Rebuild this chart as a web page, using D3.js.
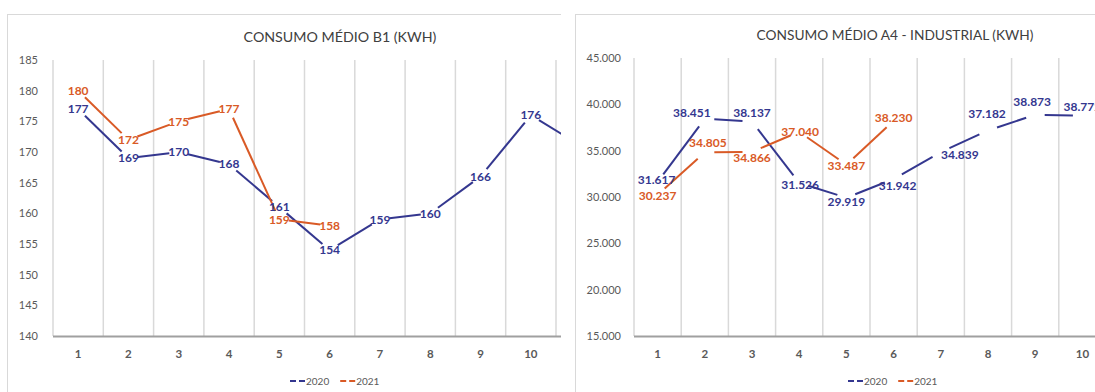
<!DOCTYPE html>
<html>
<head>
<meta charset="utf-8">
<script src="https://cdn.jsdelivr.net/npm/d3@7"></script>
<style>
  html, body { margin: 0; padding: 0; background: #fff; }
  svg { display: block; font-family: Lato, "Open Sans", sans-serif; }
</style>
</head>
<body>
<svg id="chart" width="1095" height="392"></svg>
<script>
// ---------------- DATA ----------------
const seriesNames = ['2020', '2021'];

const categoriesB1 = ['1','2','3','4','5','6','7','8','9','10','11'];
const b1Values2020 = [177, 169, 170, 168, 161, 154, 159, 160, 166, 176, 171];
const b1Values2021 = [180, 172, 175, 177, 159, 158];
const b1Ticks = [140, 145, 150, 155, 160, 165, 170, 175, 180, 185];
const b1Title = 'CONSUMO MÉDIO B1 (KWH)';

const categoriesA4 = ['1','2','3','4','5','6','7','8','9','10'];
const a4Values2020 = [31617, 38451, 38137, 31526, 29919, 31942, 34839, 37182, 38873, 38772];
const a4Values2021 = [30237, 34805, 34866, 37040, 33487, 38230];
const a4Ticks = [15000, 20000, 25000, 30000, 35000, 40000, 45000];
const a4Title = 'CONSUMO MÉDIO A4 - INDUSTRIAL (KWH)';

// ---------------- LAYOUT / STYLE ----------------
const COLORS = { '2020': '#34378f', '2021': '#d95a26' };
const GRID = '#d9d9d9', AXIS = '#a0a0a0', TEXT = '#595959', TITLE = '#404040';
const TRIM = 9.5; // white-marker gap around each point
// label nudges (Excel labels moved by hand in the A4 chart)
const nudgeA4 = {
  '2020': [[-1,-2],[-13,-6],[0,-9],[1,2],[0,4],[4,7],[19,3],[-1,-17],[-3,-13],[0,-9]],
  '2021': [[0,1],[3,-10],[0,6],[1,0],[0,1],[0,-3]]
};

const ptBR = d3.formatLocale({decimal: ',', thousands: '.', grouping: [3], currency: ['R$', '']});
const fmtThousands = ptBR.format(',.0f');

const svg = d3.select('#chart');

function fitText(sel, target) {
  const node = sel.node();
  const fs = parseFloat(sel.attr('font-size'));
  const w = node.getComputedTextLength();
  if (w > 0) sel.attr('font-size', (fs * target / w).toFixed(2));
}

function drawChart(cfg) {
  const g = svg.append('g');
  const clipId = 'clip' + cfg.id;
  svg.append('clipPath').attr('id', clipId)
    .append('rect').attr('x', cfg.clip[0]).attr('y', 0)
    .attr('width', cfg.clip[1] - cfg.clip[0]).attr('height', 392);
  const c = g.attr('clip-path', `url(#${clipId})`);
  const visible = px => px < cfg.clip[1] + 6;

  // chart border
  c.append('rect').attr('x', cfg.box[0] + 0.5).attr('y', cfg.box[1] + 0.5)
    .attr('width', 1000).attr('height', 500)
    .attr('fill', '#fff').attr('stroke', GRID).attr('stroke-width', 1);

  const x = d3.scaleBand().domain(cfg.categories)
    .range([cfg.plot.left, cfg.plot.left + cfg.band * cfg.categories.length]);
  const y = d3.scaleLinear().domain(cfg.yDomain).range([cfg.plot.bottom, cfg.plot.top]);
  const cx = d => x(d) + x.bandwidth() / 2;

  // vertical gridlines at category boundaries
  const bounds = cfg.categories.map(d => x(d)).concat([x.range()[1]]).filter(visible);
  c.append('g').selectAll('line').data(bounds).join('line')
    .attr('x1', d => d).attr('x2', d => d)
    .attr('y1', cfg.plot.top).attr('y2', cfg.plot.bottom)
    .attr('stroke', GRID).attr('stroke-width', 1.5);

  // x axis line
  c.append('line').attr('x1', cfg.plot.left).attr('x2', Math.min(x.range()[1], cfg.clip[1]))
    .attr('y1', cfg.plot.bottom + 0.5).attr('y2', cfg.plot.bottom + 0.5)
    .attr('stroke', AXIS).attr('stroke-width', 2);

  // y tick labels
  c.append('g').selectAll('text').data(cfg.ticks).join('text')
    .attr('x', cfg.yLabelX).attr('y', d => y(d)).attr('dy', '0.35em')
    .attr('text-anchor', 'end').attr('font-size', 11).attr('fill', TEXT)
    .text(d => cfg.fmt(d));

  // x tick labels (only those inside the visible part)
  c.append('g').selectAll('text').data(cfg.categories.filter(d => visible(cx(d)))).join('text')
    .attr('x', d => cx(d)).attr('y', 354).attr('dy', '0.35em')
    .attr('text-anchor', 'middle').attr('font-size', 11.5).attr('font-weight', 700)
    .attr('fill', TEXT).text(d => d);

  // title
  const t = c.append('text').attr('x', cfg.titleX).attr('y', cfg.titleY).attr('dy', '0.35em')
    .attr('text-anchor', 'middle').attr('font-size', 14).attr('fill', TITLE).text(cfg.title);
  fitText(t, cfg.titleW);

  // series lines (segments trimmed around the white markers)
  cfg.series.forEach(s => {
    const pts = s.values.map((v, i) => [cx(cfg.categories[i]), y(v)]);
    const segs = d3.pairs(pts).map(([a, b]) => {
      const dx = b[0] - a[0], dy = b[1] - a[1], L = Math.hypot(dx, dy);
      const k = TRIM / L;
      return [a[0] + dx * k, a[1] + dy * k, b[0] - dx * k, b[1] - dy * k];
    });
    c.append('g').selectAll('line').data(segs).join('line')
      .attr('x1', d => d[0]).attr('y1', d => d[1]).attr('x2', d => d[2]).attr('y2', d => d[3])
      .attr('stroke', COLORS[s.name]).attr('stroke-width', 2).attr('stroke-linecap', 'butt');
    s.pts = pts;
  });

  // data labels (skip points lying outside the visible crop)
  cfg.series.forEach(s => {
    const nudge = cfg.nudge ? cfg.nudge[s.name] : null;
    const items = s.values.map((v, i) => ({
      v, x: s.pts[i][0] + (nudge ? nudge[i][0] : 0), y: s.pts[i][1] + (nudge ? nudge[i][1] : 0)
    })).filter(d => d.x < cfg.clip[1]);
    c.append('g').selectAll('text').data(items).join('text')
      .attr('x', d => d.x).attr('y', d => d.y)
      .attr('dy', '0.35em').attr('text-anchor', 'middle')
      .attr('font-size', 12).attr('font-weight', 700).attr('fill', COLORS[s.name])
      .text(d => cfg.fmt(d.v));
  });

  // legend
  const lg = c.append('g');
  let lx = cfg.legendX;
  seriesNames.forEach((name, i) => {
    lg.append('line').attr('x1', lx).attr('x2', lx + 6).attr('y1', 381).attr('y2', 381)
      .attr('stroke', COLORS[name]).attr('stroke-width', 2);
    lg.append('line').attr('x1', lx + 9).attr('x2', lx + 15).attr('y1', 381).attr('y2', 381)
      .attr('stroke', COLORS[name]).attr('stroke-width', 2);
    const tx = lg.append('text').attr('x', lx + 16).attr('y', 381).attr('dy', '0.35em')
      .attr('font-size', 10).attr('fill', TEXT).text(name);
    lx += 16 + tx.node().getComputedTextLength() + 11;
  });
}

drawChart({
  id: 'B1', clip: [0, 561], box: [7, 14],
  categories: categoriesB1, band: 50.3,
  plot: { left: 53, top: 60, bottom: 336 },
  yDomain: [140, 185], ticks: b1Ticks, yLabelX: 38,
  fmt: d3.format('d'),
  title: b1Title, titleX: 340, titleY: 37, titleW: 193,
  legendX: 290,
  series: [{ name: '2020', values: b1Values2020 }, { name: '2021', values: b1Values2021 }]
});

drawChart({
  id: 'A4', clip: [575, 1095], box: [575, 14],
  categories: categoriesA4, band: 47.2,
  plot: { left: 634, top: 58, bottom: 336 },
  yDomain: [15000, 45000], ticks: a4Ticks, yLabelX: 621,
  fmt: fmtThousands,
  title: a4Title, titleX: 895, titleY: 35, titleW: 277,
  legendX: 848,
  nudge: nudgeA4,
  series: [{ name: '2020', values: a4Values2020 }, { name: '2021', values: a4Values2021 }]
});
</script>
</body>
</html>
